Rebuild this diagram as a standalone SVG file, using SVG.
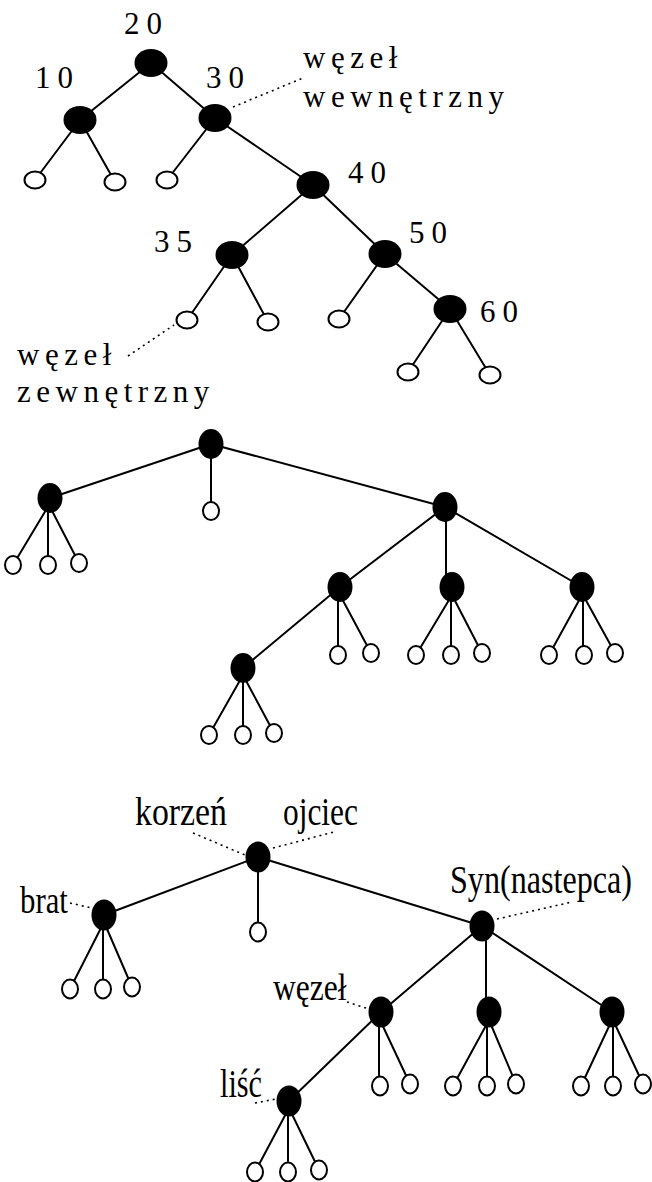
<svg xmlns="http://www.w3.org/2000/svg" width="652" height="1182" viewBox="0 0 652 1182">
<style>
.e{stroke:#000;stroke-width:2;fill:none}
.d{stroke:#000;stroke-width:1.6;stroke-dasharray:2 4;fill:none}
.n{fill:#000}
.l{fill:#fff;stroke:#000;stroke-width:2}
.t{font-family:"Liberation Serif","Times New Roman",serif;font-size:31px;letter-spacing:5.5px;fill:#000}
.num{font-family:"Liberation Serif","Times New Roman",serif;font-size:31px;letter-spacing:7px;fill:#000}
.c{font-family:"Liberation Serif","Times New Roman",serif;font-size:39px;fill:#000}
</style>
<rect width="652" height="1182" fill="#fff"/>
<g id="connectors">
<path class="e" d="M151 63L80 120M151 63L215 118M80 120L35 180M80 120L115 182M215 118L167 180M215 118L313 185M313 185L232 255M313 185L385 254M232 255L187 320M232 255L268 322M385 254L339 319M385 254L450 309M450 309L408 372M450 309L490 375"/>
<path class="d" d="M233 107L303 78M128 356L174 325"/>
<path class="e" d="M211 444L50 498M211 444L211 511M211 444L445 507M49 505L13 565M48 505L48 565M49 505L79 563M445 507L340 587M446 507L446 587M445 507L582 587M340 587L243 668M338 595L338 655M340 595L371 653M452 595L416 655M451 595L451 655M452 595L482 653M582 595L549 655M583 595L583 655M583 595L615 653M243 675L209 735M243 675L243 735M243 675L274 733"/>
<path class="e" d="M258 857L104 915M258 857L258 932M258 857L482 926M104 922L70 989M103 922L103 989M104 922L132 987M482 926L381 1012M486 926L486 1012M482 926L612 1012M381 1012L289 1101M379 1020L379 1086M380 1020L410 1084M489 1020L453 1086M487 1020L487 1086M489 1020L516 1084M612 1020L581 1086M613 1020L613 1086M613 1020L643 1084M289 1108L255 1172M288 1108L288 1172M289 1108L319 1170"/>
<path class="d" d="M193 833L245 855M273 848L334 832M70 903L92 908M497 919L572 902M347 1002L369 1009M255 1103L276 1099"/>
</g>
<g id="tree1">
<g id="n20"><ellipse class="n" cx="151" cy="63" rx="16.5" ry="14"/><text class="num" x="124" y="34">20</text></g>
<g id="n10"><ellipse class="n" cx="80" cy="120" rx="16.5" ry="14"/><text class="num" x="35" y="88">10</text></g>
<g id="n30"><ellipse class="n" cx="215" cy="118" rx="16.5" ry="14"/><text class="num" x="206" y="88">30</text></g>
<g id="n40"><ellipse class="n" cx="313" cy="185" rx="16.5" ry="14"/><text class="num" x="348" y="183">40</text></g>
<g id="n35"><ellipse class="n" cx="232" cy="255" rx="16.5" ry="14"/><text class="num" x="154" y="252">35</text></g>
<g id="n50"><ellipse class="n" cx="385" cy="254" rx="16.5" ry="14"/><text class="num" x="409" y="243">50</text></g>
<g id="n60"><ellipse class="n" cx="450" cy="309" rx="16.5" ry="14"/><text class="num" x="480" y="322">60</text></g>
<g id="t1leaves">
<ellipse class="l" cx="35" cy="180" rx="10.5" ry="8.5"/>
<ellipse class="l" cx="115" cy="182" rx="10.5" ry="8.5"/>
<ellipse class="l" cx="167" cy="180" rx="10.5" ry="8.5"/>
<ellipse class="l" cx="187" cy="320" rx="10.5" ry="8.5"/>
<ellipse class="l" cx="268" cy="322" rx="10.5" ry="8.5"/>
<ellipse class="l" cx="339" cy="319" rx="10.5" ry="8.5"/>
<ellipse class="l" cx="408" cy="372" rx="10.5" ry="8.5"/>
<ellipse class="l" cx="490" cy="375" rx="10.5" ry="8.5"/>
</g>
<g id="label-wewn"><text class="t" x="303" y="68">węzeł</text><text class="t" x="303" y="107">wewnętrzny</text></g>
<g id="label-zewn"><text class="t" x="17" y="365">węzeł</text><text class="t" x="17" y="402">zewnętrzny</text></g>
</g>
<g id="tree2">
<g id="m-root"><ellipse class="n" cx="211" cy="444" rx="12.5" ry="15"/></g>
<g id="m-left"><ellipse class="n" cx="50" cy="498" rx="12.5" ry="15"/></g>
<g id="m-right"><ellipse class="n" cx="445" cy="507" rx="12.5" ry="15"/></g>
<g id="m-a"><ellipse class="n" cx="340" cy="587" rx="12.5" ry="15"/></g>
<g id="m-b"><ellipse class="n" cx="452" cy="587" rx="12.5" ry="15"/></g>
<g id="m-c"><ellipse class="n" cx="582" cy="587" rx="12.5" ry="15"/></g>
<g id="m-d"><ellipse class="n" cx="243" cy="668" rx="12.5" ry="15"/></g>
<g id="t2leaves">
<ellipse class="l" cx="211" cy="511" rx="8" ry="9"/>
<ellipse class="l" cx="13" cy="565" rx="8" ry="9"/>
<ellipse class="l" cx="48" cy="565" rx="8" ry="9"/>
<ellipse class="l" cx="79" cy="563" rx="8" ry="9"/>
<ellipse class="l" cx="338" cy="655" rx="8" ry="9"/>
<ellipse class="l" cx="371" cy="653" rx="8" ry="9"/>
<ellipse class="l" cx="416" cy="655" rx="8" ry="9"/>
<ellipse class="l" cx="451" cy="655" rx="8" ry="9"/>
<ellipse class="l" cx="482" cy="653" rx="8" ry="9"/>
<ellipse class="l" cx="549" cy="655" rx="8" ry="9"/>
<ellipse class="l" cx="584" cy="655" rx="8" ry="9"/>
<ellipse class="l" cx="615" cy="653" rx="8" ry="9"/>
<ellipse class="l" cx="209" cy="735" rx="8" ry="9"/>
<ellipse class="l" cx="243" cy="735" rx="8" ry="9"/>
<ellipse class="l" cx="274" cy="733" rx="8" ry="9"/>
</g>
</g>
<g id="tree3">
<g id="b-root"><ellipse class="n" cx="258" cy="857" rx="12.5" ry="15.5"/><text class="c" transform="translate(135 825) scale(0.867 1)">korzeń</text><text class="c" transform="translate(283 825) scale(0.805 1)">ojciec</text></g>
<g id="b-brat"><ellipse class="n" cx="104" cy="915" rx="12.5" ry="15.5"/><text class="c" transform="translate(20 913) scale(0.79 1)">brat</text></g>
<g id="b-syn"><ellipse class="n" cx="482" cy="926" rx="12.5" ry="15.5"/><text class="c" transform="translate(450 893) scale(0.824 1)">Syn(nastepca)</text></g>
<g id="b-wezel"><ellipse class="n" cx="381" cy="1012" rx="12.5" ry="15.5"/><text class="c" transform="translate(273 1000) scale(0.81 1)">węzeł</text></g>
<g id="b-mid"><ellipse class="n" cx="489" cy="1012" rx="12.5" ry="15.5"/></g>
<g id="b-right"><ellipse class="n" cx="612" cy="1012" rx="12.5" ry="15.5"/></g>
<g id="b-lisc"><ellipse class="n" cx="289" cy="1101" rx="12.5" ry="15.5"/><text class="c" transform="translate(220 1097) scale(0.775 1)">liść</text></g>
<g id="t3leaves">
<ellipse class="l" cx="258" cy="932" rx="8" ry="9.5"/>
<ellipse class="l" cx="70" cy="989" rx="8" ry="9.5"/>
<ellipse class="l" cx="103" cy="989" rx="8" ry="9.5"/>
<ellipse class="l" cx="132" cy="987" rx="8" ry="9.5"/>
<ellipse class="l" cx="380" cy="1086" rx="8" ry="9.5"/>
<ellipse class="l" cx="410" cy="1084" rx="8" ry="9.5"/>
<ellipse class="l" cx="453" cy="1086" rx="8" ry="9.5"/>
<ellipse class="l" cx="487" cy="1086" rx="8" ry="9.5"/>
<ellipse class="l" cx="516" cy="1084" rx="8" ry="9.5"/>
<ellipse class="l" cx="581" cy="1086" rx="8" ry="9.5"/>
<ellipse class="l" cx="613" cy="1086" rx="8" ry="9.5"/>
<ellipse class="l" cx="643" cy="1084" rx="8" ry="9.5"/>
<ellipse class="l" cx="255" cy="1172" rx="8" ry="9.5"/>
<ellipse class="l" cx="288" cy="1172" rx="8" ry="9.5"/>
<ellipse class="l" cx="319" cy="1170" rx="8" ry="9.5"/>
</g>
</g>
</svg>
